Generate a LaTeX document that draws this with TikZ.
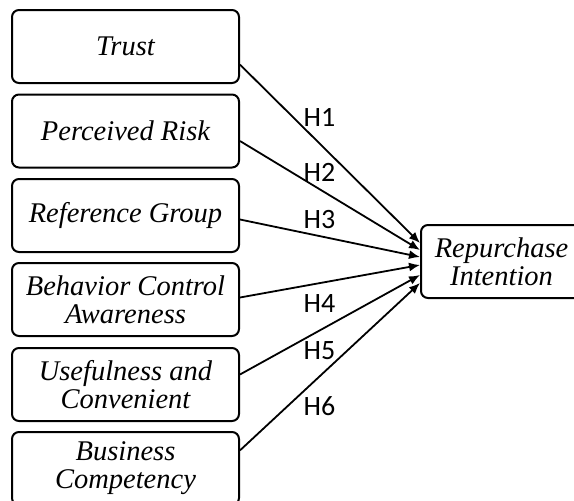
\documentclass[tikz,border=0pt]{standalone}
\usepackage{fontspec}
\setmainfont{Liberation Serif}
\newfontfamily\hypfont{Carlito}
\usetikzlibrary{arrows.meta,calc}

\tikzset{
  factor/.style={draw, line width=2pt, rounded corners=7pt, minimum width=227pt, minimum height=73pt,
    align=center, inner sep=0pt, font=\fontsize{28.5}{28}\selectfont\itshape},
  hyparrow/.style={line width=1.8pt, -{Latex[length=11pt,width=9pt]}},
  hyplabel/.style={inner sep=0pt, font=\hypfont\fontsize{28}{28}\selectfont}
}

\begin{document}
\begin{tikzpicture}[x=1pt,y=-1pt]
\useasboundingbox (0,0) rectangle (574,501);
\clip (0,0) rectangle (574,501);

% independent variables
\node[factor] (trust) at (125.5,46.5) {Trust};
\node[factor] (risk) at (125.5,131) {Perceived Risk};
\node[factor] (group) at (125.5,215.5) {Reference Group};
\node[factor] (control) at (125.5,299.5) {Behavior Control\\Awareness};
\node[factor] (useful) at (125.5,384.5) {Usefulness and\\Convenient};
\node[factor] (business) at (125.5,468.5) {Business\\Competency};

% dependent variable
\node[factor, minimum width=161pt] (intent) at (501.5,261.5) {Repurchase\\Intention};

% hypotheses
\foreach \src/\a/\dy/\h/\ly in {trust/-9/-18.5/1/117, risk/-5.5/-11.5/2/172.5, group/-2.3/-4.5/3/220,
  control/1.8/3.5/4/304, useful/5.7/13.5/5/351, business/9.2/21.5/6/406} {
  \draw[hyparrow] (\src.\a) -- ($(intent.west)+(0,\dy)$);
  \node[hyplabel] (h\h) at (319.5,\ly) {H\h};
}

\end{tikzpicture}
\end{document}
